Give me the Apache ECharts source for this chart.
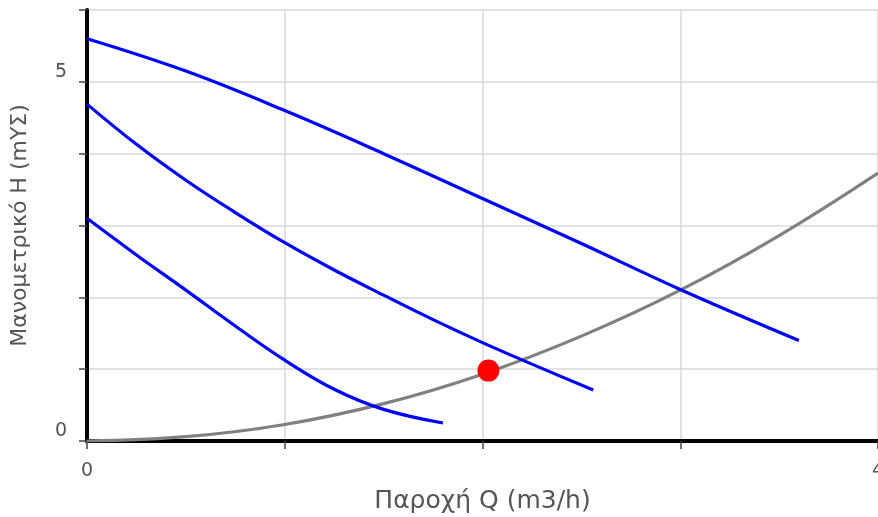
<!DOCTYPE html>
<html>
<head>
<meta charset="utf-8">
<script src="https://cdn.jsdelivr.net/npm/echarts@6/dist/echarts.min.js"></script>
<style>
    html, body {margin: 0; padding: 0; background: #fff;}
    #main {width: 878px; height: 517px;}
</style>
</head>
<body>
<div id="main"></div>
<script>
// καμπύλες αντλίας (3 ταχύτητες)
var q1 = [0, 0.5, 1, 1.5, 2, 2.5, 3, 3.6];
var h1 = [5.6, 5.15, 4.6, 4.0, 3.375, 2.75, 2.11, 1.4];

var q2 = [0, 0.25, 0.5, 0.75, 1, 1.25, 1.5, 1.75, 2, 2.25, 2.56];
var h2 = [4.69, 4.13, 3.63, 3.18, 2.76, 2.38, 2.03, 1.69, 1.37, 1.07, 0.71];

var q3 = [0, 0.25, 0.5, 0.75, 1, 1.25, 1.5, 1.8];
var h3 = [3.1, 2.59, 2.1, 1.6, 1.125, 0.72, 0.44, 0.25];

// καμπύλη δικτύου
var qs = [0, 0.5, 1, 1.5, 2, 2.5, 3, 3.5, 4];
var hs = [0, 0.06, 0.23, 0.52, 0.93, 1.46, 2.1, 2.86, 3.73];

// σημείο λειτουργίας
var opPoint = [2.03, 0.98];

var xLabels = [0, 4];
var yLabels = [0, 5];

function pairs(xs, ys) {
    var out = [];
    for (var i = 0; i < xs.length; i++) {
        out.push([xs[i], ys[i]]);
    }
    return out;
}

function pumpLine(xs, ys) {
    return {
        type: 'line',
        data: pairs(xs, ys),
        smooth: 0.4,
        showSymbol: false,
        lineStyle: {color: '#0000ff', width: 3.2},
        z: 3
    };
}

var chart = echarts.init(document.getElementById('main'));
var option = {
    animation: false,
    grid: {left: 87, right: 0, top: 10, bottom: 76, outerBoundsMode: 'none', containLabel: false},
    xAxis: {
        type: 'value',
        min: 0,
        max: 4,
        interval: 1,
        name: 'Παροχή Q (m3/h)',
        nameLocation: 'middle',
        nameGap: 48,
        nameTextStyle: {fontFamily: 'DejaVu Sans', fontSize: 25, color: '#555'},
        axisLine: {lineStyle: {color: '#000', width: 4}},
        axisTick: {length: 8, lineStyle: {color: '#444', width: 1.5}},
        axisLabel: {
            fontFamily: 'DejaVu Sans',
            fontSize: 19,
            color: '#555',
            margin: 21,
            formatter: function (v) {
                return xLabels.indexOf(v) >= 0 ? String(v) : '';
            }
        },
        splitLine: {lineStyle: {color: '#d9d9d9', width: 1.5}}
    },
    yAxis: {
        type: 'value',
        min: 0,
        max: 6,
        interval: 1,
        name: 'Μανομετρικό H (mYΣ)',
        nameLocation: 'middle',
        nameGap: 56,
        nameTextStyle: {fontFamily: 'DejaVu Sans', fontSize: 22, color: '#555'},
        axisLine: {lineStyle: {color: '#000', width: 4}},
        axisTick: {length: 8, lineStyle: {color: '#444', width: 1.5}},
        axisLabel: {
            fontFamily: 'DejaVu Sans',
            fontSize: 19,
            color: '#555',
            margin: 20,
            verticalAlign: 'bottom',
            formatter: function (v) {
                return yLabels.indexOf(v) >= 0 ? String(v) : '';
            }
        },
        splitLine: {lineStyle: {color: '#d9d9d9', width: 1.5}}
    },
    series: [
        pumpLine(q1, h1),
        pumpLine(q2, h2),
        pumpLine(q3, h3),
        {
            type: 'line',
            data: pairs(qs, hs),
            smooth: 0.4,
            showSymbol: false,
            lineStyle: {color: '#808080', width: 3.2},
            z: 2
        },
        {
            type: 'scatter',
            data: [opPoint],
            symbolSize: 22,
            itemStyle: {color: '#ff0000', opacity: 1},
            z: 5
        }
    ]
};
chart.setOption(option);
</script>
</body>
</html>
